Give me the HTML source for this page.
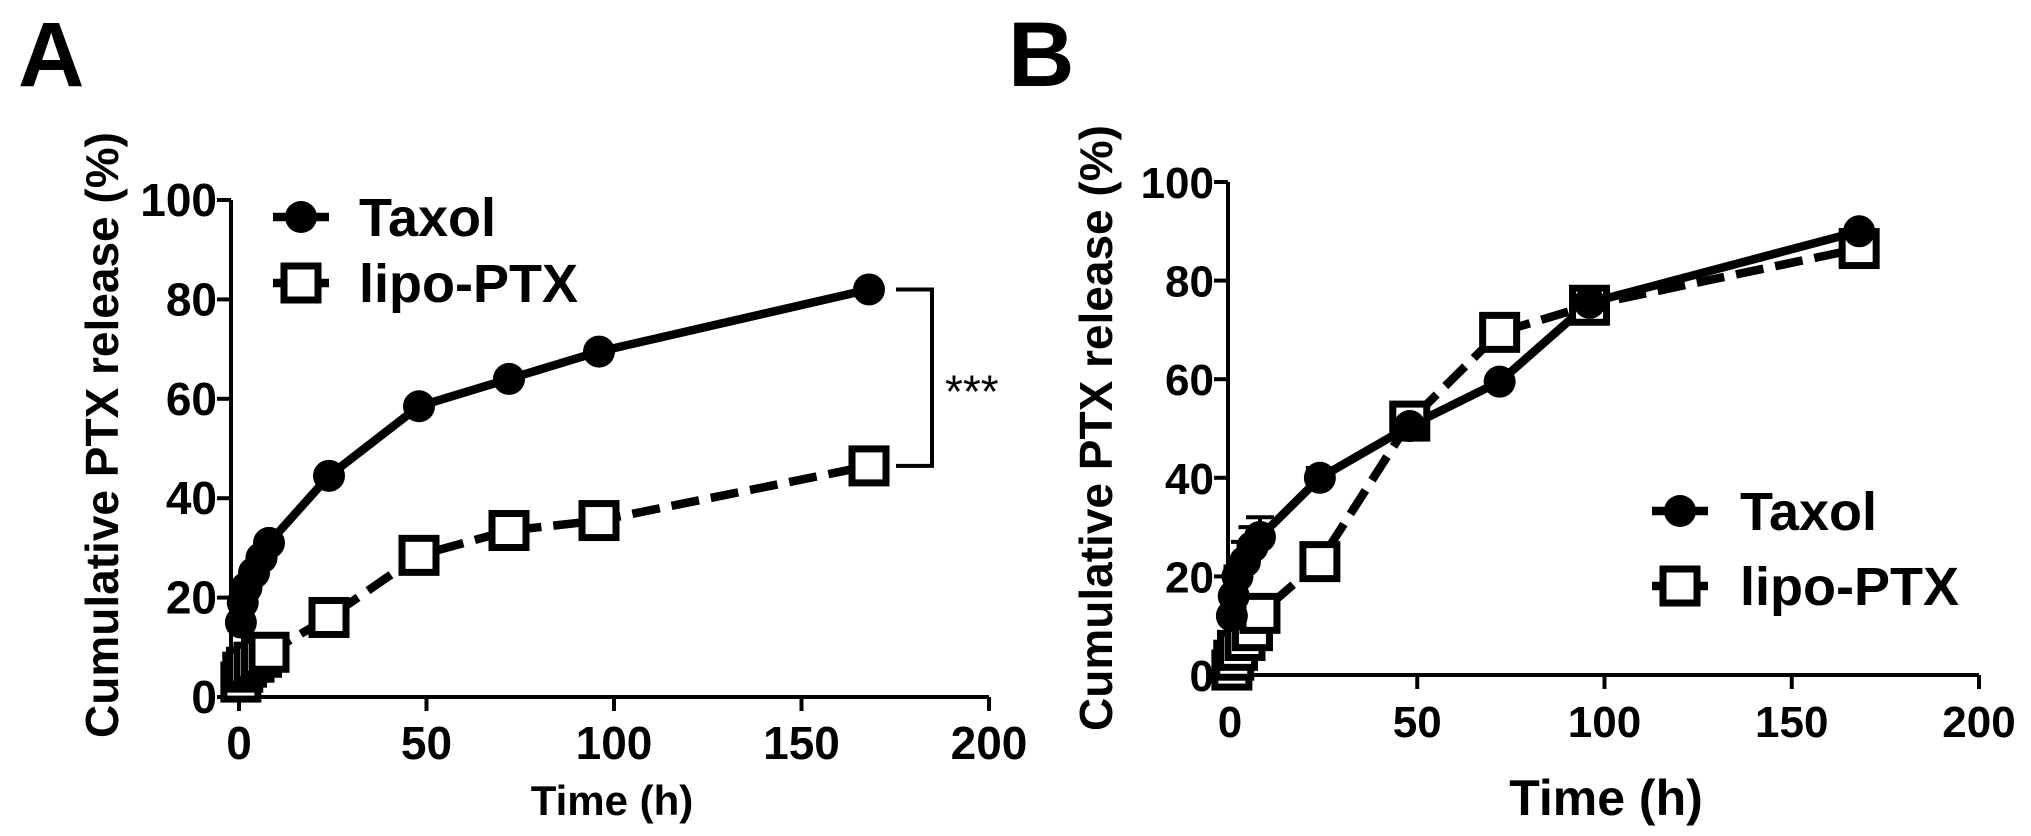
<!DOCTYPE html>
<html><head><meta charset="utf-8"><style>
html,body{margin:0;padding:0;background:#fff;}
svg{display:block;font-family:"Liberation Sans",Arial,sans-serif;font-weight:bold;}
</style></head><body>
<svg id="fig" width="2031" height="836" viewBox="0 0 2031 836" xmlns="http://www.w3.org/2000/svg">
<text x="18" y="86" font-size="92">A</text>
<text x="1008" y="86" font-size="92">B</text>
</svg>
<script>
const timesA = [0.5, 1, 2, 4, 6, 8, 24, 48, 72, 96, 168];
const taxolA = [15, 19, 22, 25, 28, 31, 44.5, 58.5, 64, 69.5, 82];
const lipoA = [3, 5, 6, 7, 8, 9, 16, 28.5, 33.5, 35.5, 46.5];
const timesB = [0.5, 1, 2, 4, 6, 8, 24, 48, 72, 96, 168];
const taxolB = [12, 16, 20, 23, 26, 28, 40, 50.5, 59.5, 75.5, 90];
const taxolBErr = [1, 1, 2, 4, 4, 4, 2, 1, 1, 1, 1];
const lipoB = [1, 3, 5, 7, 9, 12.5, 23, 51.5, 69.5, 75, 86.5];
const xTicks = [0, 50, 100, 150, 200];
const yTicks = [0, 20, 40, 60, 80, 100];

const NS = "http://www.w3.org/2000/svg";
const svg = document.getElementById('fig');
function mk(tag, attrs, parent) {
  const e = document.createElementNS(NS, tag);
  for (const k in attrs) e.setAttribute(k, attrs[k]);
  (parent || svg).appendChild(e);
  return e;
}

function panel(cfg) {
  const g = mk('g', {});
  
  
  const sx = v => cfg.x0 + (v / 200) * (cfg.x200 - cfg.x0);
  const sy = v => cfg.y0 - (v / 100) * (cfg.y0 - cfg.y100);
  const ya = mk('line', {x1: cfg.ax, y1: cfg.y100, x2: cfg.ax, y2: cfg.y0 + 2, stroke: '#000', 'stroke-width': 4}, g);
  
  
  const xa = mk('line', {x1: cfg.ax - 2, y1: cfg.y0, x2: cfg.x200, y2: cfg.y0, stroke: '#000', 'stroke-width': 4}, g);
  
  
  yTicks.forEach(t => {
    const y = sy(t);
    mk('line', {x1: cfg.ax - 14, y1: y, x2: cfg.ax, y2: y, stroke: '#000', 'stroke-width': 4}, g);
    const tx = mk('text', {x: cfg.ax - 14, y: y + 16, 'font-size': cfg.tickFs, 'text-anchor': 'end'}, g);
    tx.textContent = t;
    
    
  });
  xTicks.forEach(t => {
    const x = sx(t);
    mk('line', {x1: x, y1: cfg.y0, x2: x, y2: cfg.y0 + 14, stroke: '#000', 'stroke-width': 4}, g);
    const tx = mk('text', {x: x, y: cfg.y0 + 62, 'font-size': cfg.tickFs, 'text-anchor': 'middle'}, g);
    tx.textContent = t;
    
    
  });
  const xt = mk('text', {x: cfg.xtX, y: 815, 'font-size': cfg.xtFs, 'text-anchor': 'middle'}, g);
  xt.textContent = 'Time (h)';
  
  
  const yt = mk('text', {x: 0, y: 0, 'font-size': 46, 'text-anchor': 'middle', transform: 'translate(' + cfg.ytX + ',' + cfg.ytY + ') rotate(-90)'}, g);
  yt.textContent = 'Cumulative PTX release (%)';
  
  

  const lp = cfg.times.map((t, i) => sx(t) + ',' + sy(cfg.lipo[i])).join(' ');
  const ll = mk('polyline', {points: lp, fill: 'none', stroke: '#000', 'stroke-width': 8.5, 'stroke-dasharray': '28,12'}, g);
  
  
  const tp = cfg.times.map((t, i) => sx(t) + ',' + sy(cfg.taxol[i])).join(' ');
  const tl = mk('polyline', {points: tp, fill: 'none', stroke: '#000', 'stroke-width': 8.5}, g);
  
  
  if (cfg.err) {
    cfg.times.forEach((t, i) => {
      const x = sx(t), y1 = sy(cfg.taxol[i]), y2 = sy(cfg.taxol[i] + cfg.err[i]);
      mk('line', {x1: x, y1: y1, x2: x, y2: y2, stroke: '#000', 'stroke-width': 4}, g);
      mk('line', {x1: x - 14, y1: y2, x2: x + 14, y2: y2, stroke: '#000', 'stroke-width': 4}, g);
    });
  }
  cfg.times.forEach((t, i) => {
    const x = sx(t), y = sy(cfg.lipo[i]);
    const r = mk('rect', {x: x - 17, y: y - 17, width: 34, height: 34, fill: '#fff', stroke: '#000', 'stroke-width': 7}, g);
    
    
  });
  cfg.times.forEach((t, i) => {
    const c = mk('circle', {cx: sx(t), cy: sy(cfg.taxol[i]), r: 16, fill: '#000'}, g);
    
    
  });
  const lg = mk('g', {}, g);
  
  
  const L = cfg.leg;
  mk('line', {x1: L.x - 28, y1: L.y1, x2: L.x + 28, y2: L.y1, stroke: '#000', 'stroke-width': 8.5}, lg);
  mk('circle', {cx: L.x, cy: L.y1, r: 16, fill: '#000'}, lg);
  const t1 = mk('text', {x: L.tx, y: L.y1 + 19, 'font-size': 54}, lg);
  t1.textContent = 'Taxol';
  
  
  mk('line', {x1: L.x - 28, y1: L.y2, x2: L.x + 28, y2: L.y2, stroke: '#000', 'stroke-width': 8.5}, lg);
  mk('rect', {x: L.x - 17, y: L.y2 - 17, width: 34, height: 34, fill: '#fff', stroke: '#000', 'stroke-width': 7}, lg);
  const t2 = mk('text', {x: L.tx, y: L.y2 + 19, 'font-size': 54}, lg);
  t2.textContent = 'lipo-PTX';
  
  
  return {sx, sy, g};
}

const A = panel({id: 'panel-a', ax: 231, x0: 239, x200: 989, y0: 697, y100: 200, tickFs: 46, xtFs: 42, xtX: 612, ytX: 118, ytY: 435,
  times: timesA, taxol: taxolA, lipo: lipoA, err: null, leg: {x: 301, tx: 359, y1: 217, y2: 283}});
const B = panel({id: 'panel-b', ax: 1228, x0: 1230, x200: 1979, y0: 675, y100: 182, tickFs: 44, xtFs: 50, xtX: 1606, ytX: 1112, ytY: 428,
  times: timesB, taxol: taxolB, lipo: lipoB, err: taxolBErr, leg: {x: 1680, tx: 1740, y1: 511, y2: 586}});

const yT = A.sy(taxolA[taxolA.length - 1]), yL = A.sy(lipoA[lipoA.length - 1]);
const br = mk('polyline', {points: '896,' + yT + ' 932,' + yT + ' 932,' + yL + ' 896,' + yL, fill: 'none', stroke: '#000', 'stroke-width': 4});


const st = mk('text', {x: 945, y: (yT + yL) / 2 + 30, 'font-size': 46, 'font-weight': 'normal'});
st.textContent = '***';


</script>
</body></html>
